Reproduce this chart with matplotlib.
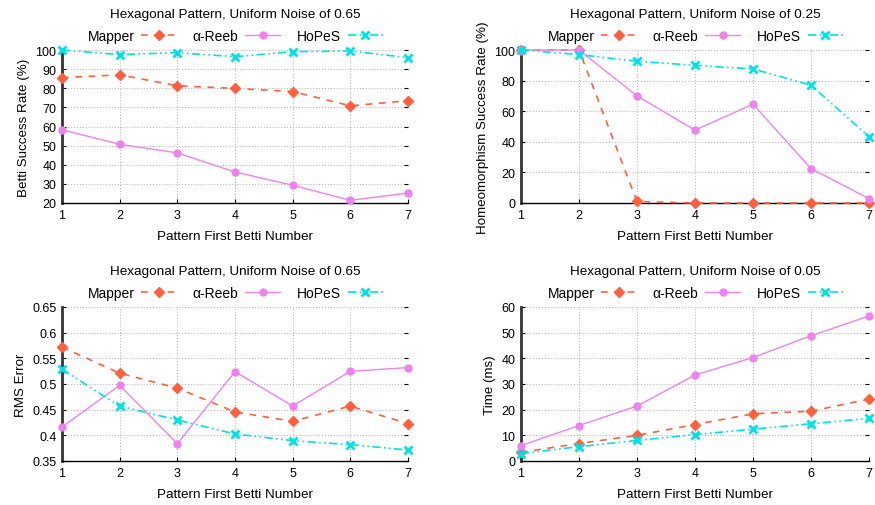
import matplotlib.pyplot as plt
import numpy as np

plt.rcParams['font.family'] = ['Liberation Sans', 'DejaVu Sans']

betti = [1, 2, 3, 4, 5, 6, 7]

# Betti success rate, noise 0.65
betti_mapper = [85.5, 87, 81.3, 79.9, 78.3, 70.8, 73.5]
betti_reeb = [58.3, 50.7, 46.2, 36.2, 29.3, 21.4, 25.2]
betti_hopes = [100, 97.6, 98.6, 96.5, 99.1, 99.5, 96]

# Homeomorphism success rate, noise 0.25
homeo_mapper = [100, 100, 1, 0, 0, 0, 0]
homeo_reeb = [100, 100, 70, 47.6, 64.6, 22.5, 2.8]
homeo_hopes = [100, 97, 92.6, 90, 87.6, 77, 43.4]

# RMS error, noise 0.65
rms_mapper = [0.572, 0.521, 0.492, 0.4455, 0.4273, 0.457, 0.4227]
rms_reeb = [0.4162, 0.4974, 0.3838, 0.524, 0.457, 0.5247, 0.532]
rms_hopes = [0.5286, 0.457, 0.430, 0.4026, 0.3896, 0.3818, 0.3714]

# Time, noise 0.05
time_mapper = [3.4, 6.8, 10, 14.2, 18.4, 19.4, 24.1]
time_reeb = [6, 13.8, 21.4, 33.5, 40.3, 48.8, 56.5]
time_hopes = [2.9, 5.6, 8, 10.3, 12.4, 14.5, 16.6]

c_mapper = "#ff6040"
c_reeb = "#ee82ee"
c_hopes = "#00e0e6"


def panel(ax, title, ylabel, mapper, reeb, hopes, ylim, yticks):
    ax.plot(betti, mapper, color=c_mapper, ls=(0, (4, 4)), lw=1.2,
            marker="D", ms=5, label="Mapper", clip_on=False, zorder=3)
    ax.plot(betti, reeb, color=c_reeb, ls="-", lw=1.0,
            marker="o", ms=5, label="\u03b1-Reeb", clip_on=False, zorder=3)
    ax.plot(betti, hopes, color=c_hopes, ls=(0, (5, 2, 1, 2, 1, 2)), lw=1.2,
            marker="x", ms=6, mew=2, label="HoPeS", clip_on=False, zorder=3)
    ax.set_xlim(1, 7)
    ax.set_ylim(*ylim)
    ax.set_xticks(betti)
    ax.set_yticks(yticks)
    ax.set_yticklabels([f"{v:g}" for v in yticks])
    ax.grid(True, ls=(0, (1, 2)), color="#b0b0b0", lw=0.7)
    ax.spines['top'].set_visible(False)
    ax.spines['right'].set_visible(False)
    ax.spines['left'].set_linewidth(2.0)
    ax.spines['left'].set_color("#333333")
    ax.spines['bottom'].set_linewidth(1.0)
    ax.tick_params(direction="in", length=3, labelsize=9, right=True, top=False,
                   pad=4)
    ax.set_title(title, fontsize=9.7, pad=24)
    ax.set_xlabel("Pattern First Betti Number", fontsize=9.7, labelpad=7)
    ax.set_ylabel(ylabel, fontsize=9.6)
    ax.legend(loc="lower center", bbox_to_anchor=(0.5, 1.0), ncol=3,
              frameon=False, markerfirst=False, fontsize=10,
              handlelength=2.5, columnspacing=1.2, borderaxespad=0.1,
              handletextpad=0.5)


fig = plt.figure(figsize=(8.75, 5.06), dpi=100)
W, H = 875, 506
axes = [
    fig.add_axes([62 / W, 1 - 204 / H, 346 / W, 153 / H]),
    fig.add_axes([521 / W, 1 - 204 / H, 348 / W, 153 / H]),
    fig.add_axes([62 / W, 1 - 462 / H, 346 / W, 154 / H]),
    fig.add_axes([521 / W, 1 - 462 / H, 348 / W, 154 / H]),
]

panel(axes[0], "Hexagonal Pattern, Uniform Noise of 0.65", "Betti Success Rate (%)",
      betti_mapper, betti_reeb, betti_hopes, (20, 100), np.arange(20, 101, 10))
panel(axes[1], "Hexagonal Pattern, Uniform Noise of 0.25", "Homeomorphism Success Rate (%)",
      homeo_mapper, homeo_reeb, homeo_hopes, (0, 100), np.arange(0, 101, 20))
panel(axes[2], "Hexagonal Pattern, Uniform Noise of 0.65", "RMS Error",
      rms_mapper, rms_reeb, rms_hopes, (0.35, 0.65),
      np.round(np.arange(0.35, 0.651, 0.05), 2))
panel(axes[3], "Hexagonal Pattern, Uniform Noise of 0.05", "Time (ms)",
      time_mapper, time_reeb, time_hopes, (0, 60), np.arange(0, 61, 10))

fig.savefig("out.png", dpi=100)
